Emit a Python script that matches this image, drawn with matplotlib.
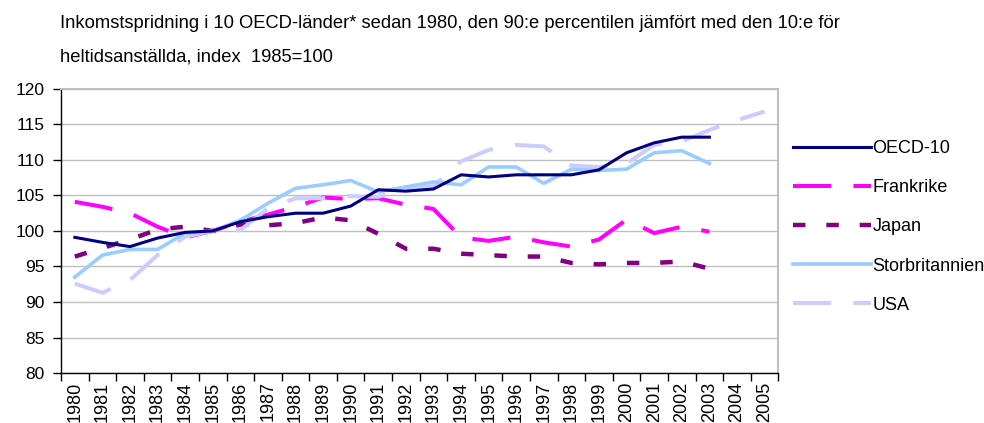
import matplotlib
matplotlib.use("Agg")
import matplotlib.pyplot as plt

plt.rcParams['font.family'] = ['Liberation Sans', 'DejaVu Sans']

years = list(range(1980, 2006))

oecd10 = [99.1, 98.4, 97.8, 99.0, 99.8, 100.0, 101.3, 102.0, 102.5, 102.5, 103.5, 105.8,
          105.6, 105.9, 107.9, 107.6, 107.9, 107.9, 107.9, 108.6, 111.0, 112.4, 113.2, 113.2]
frankrike = [104.1, 103.4, 102.5, 100.6, 99.1, 100.0, 101.3, 102.3, 103.4, 104.7, 104.5, 104.6,
             103.7, 103.1, 99.1, 98.6, 99.2, 98.4, 97.8, 98.8, 101.6, 99.7, 100.6, 99.9]
japan = [96.4, 97.6, 98.8, 100.2, 100.6, 100.0, 100.9, 100.8, 101.1, 101.9, 101.5, 99.6,
         97.5, 97.5, 96.8, 96.6, 96.4, 96.4, 95.5, 95.3, 95.5, 95.5, 95.7, 94.7]
storbritannien = [93.5, 96.6, 97.4, 97.4, 99.7, 100.0, 101.5, 103.9, 106.0, 106.5, 107.1, 105.5,
                  106.2, 106.9, 106.5, 109.0, 109.0, 106.7, 108.7, 108.5, 108.7, 111.0, 111.3, 109.5]
usa = [92.6, 91.3, 93.1, 96.6, 99.2, 100.0, 100.1, 103.2, 104.6, 104.6, 104.9, 104.8,
       106.0, 106.3, 109.8, 111.4, 112.1, 111.9, 109.2, 109.0, 109.5, 112.1, 112.6, 114.2,
       115.6, 116.8]

title = ("Inkomstspridning i 10 OECD-länder* sedan 1980, den 90:e percentilen jämfört med den 10:e för\n"
         "heltidsanställda, index  1985=100")

fig = plt.figure(figsize=(9.84, 4.23), dpi=100)
ax = fig.add_axes([0.062, 0.118, 0.729, 0.672])

x = list(range(len(years)))
ax.plot(x[:len(oecd10)], oecd10, color='#000080', lw=2.2, label='OECD-10', zorder=6)
ax.plot(x[:len(frankrike)], frankrike, color='#FF00FF', lw=2.9, dashes=(9.5, 5.5), label='Frankrike', zorder=3)
ax.plot(x[:len(japan)], japan, color='#800080', lw=3.2, dashes=(2.8, 4.7), label='Japan', zorder=2)
ax.plot(x[:len(storbritannien)], storbritannien, color='#99CCFF', lw=2.6, label='Storbritannien', zorder=5)
ax.plot(x[:len(usa)], usa, color='#CCCCFF', lw=2.9, dashes=(9.5, 5.5), label='USA', zorder=4)

ax.set_xlim(-0.5, len(years) - 0.5)
ax.set_ylim(80, 120)
ax.set_yticks(range(80, 121, 5))
ax.set_xticks([i - 0.5 for i in range(len(years) + 1)])
ax.set_xticklabels([])
ax.set_xticks(x, minor=True)
ax.set_xticklabels([str(y) for y in years], minor=True, rotation=90, fontsize=13)
ax.tick_params(axis='x', which='minor', length=0, pad=6)
ax.tick_params(axis='x', which='major', length=6, width=1, direction='out', color='black')
ax.tick_params(axis='y', length=6, width=1, direction='out', labelsize=12.5, pad=6)

ax.grid(axis='y', color='#BFBFBF', lw=1)
ax.set_axisbelow(True)
for s in ['top', 'right']:
    ax.spines[s].set_color('#BFBFBF')
    ax.spines[s].set_linewidth(1.5)
for s in ['left', 'bottom']:
    ax.spines[s].set_color('black')
    ax.spines[s].set_linewidth(1)

fig.text(0.061, 0.905, title, fontsize=13.2, va='center', ha='left', linespacing=2.25)

fig.legend(loc='upper left', bbox_to_anchor=(0.806, 0.668), frameon=False,
           fontsize=13, handlelength=4.3, handletextpad=0.1, labelspacing=1.22,
           borderaxespad=0, borderpad=0)

fig.savefig('out.png', dpi=100)
